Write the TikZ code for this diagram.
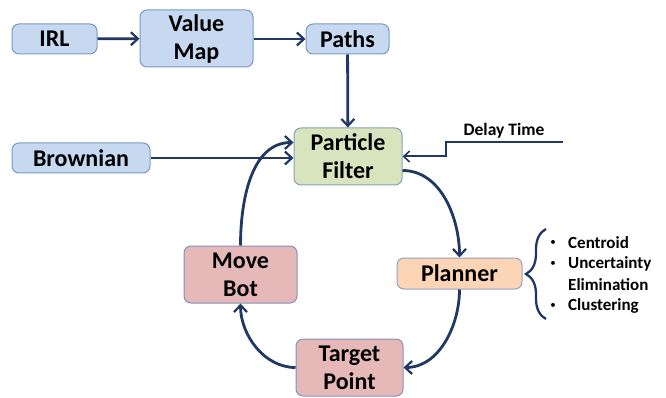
\documentclass[tikz,border=0pt]{standalone}
\usepackage{fontspec}
\setmainfont{Carlito}
\usetikzlibrary{arrows.meta,decorations.pathreplacing}
\definecolor{bluefill}{RGB}{198,217,240}
\definecolor{blueline}{RGB}{124,152,196}
\definecolor{greenfill}{RGB}{215,228,189}
\definecolor{greenline}{RGB}{140,160,180}
\definecolor{pinkfill}{RGB}{230,185,184}
\definecolor{pinkline}{RGB}{130,145,190}
\definecolor{orangefill}{RGB}{251,213,181}
\definecolor{orangeline}{RGB}{150,160,190}
\definecolor{arrowc}{RGB}{31,56,100}
\tikzset{
  box/.style={draw=#1line, line width=1pt, rounded corners=7pt, fill=#1fill, align=center, inner sep=0pt,
    font=\fontsize{24}{28}\selectfont\bfseries},
  conn/.style={draw=arrowc, line width=2.8pt, -{Straight Barb[length=7pt,width=13pt,line width=2.2pt]}},
  thin/.style={draw=arrowc, line width=2pt},
  small/.style={font=\fontsize{17}{20}\selectfont\bfseries, inner sep=0pt},
}
\begin{document}
\begin{tikzpicture}[x=1pt,y=-1pt]
\useasboundingbox (0,0) rectangle (666,398);
\node[box=blue, minimum width=85pt, minimum height=30pt] (irl) at (54.5,39) {IRL};
\node[box=blue, minimum width=113pt, minimum height=57pt] (vm) at (196.5,38.5) {Value\\Map};
\node[box=blue, minimum width=83pt, minimum height=30pt] (paths) at (347.5,39) {Paths};
\node[box=green, minimum width=108pt, minimum height=57pt] (pf) at (348,156.5) {Particle\\Filter};
\node[box=blue, minimum width=138pt, minimum height=30pt] (brown) at (81,158) {Brownian};
\node[box=orange, minimum width=125pt, minimum height=31pt] (plan) at (459.5,273.5) {Planner};
\node[box=pink, minimum width=113pt, minimum height=57pt] (move) at (240.5,274.5) {Move\\Bot};
\node[box=pink, minimum width=107pt, minimum height=57pt] (tgt) at (349.5,367.5) {Target\\Point};

\draw[conn] (irl) -- (vm);
\draw[conn] (vm.east |- paths) -- (paths);
\draw[conn] (paths) -- (pf);
\draw[conn] (brown.east) -- (pf.west |- brown.east);
\draw[conn] ([yshift=-14pt]pf.east) to[out=0,in=90,looseness=0.95] (plan.north);
\draw[conn] (plan.south) to[out=-90,in=0,looseness=0.95] (tgt.east);
\draw[conn] (tgt.west) to[out=180,in=-90,looseness=0.95] (move.south);
\draw[conn] (move.north) to[out=90,in=180,looseness=0.95] ([yshift=14pt]pf.west);

\coordinate (dt) at (563,142);
\coordinate (dc) at (446,142);
\draw[thin, -{Straight Barb[length=6pt,width=11pt,line width=1.6pt]}] (dt) -- (dc) -- (dc |- pf.east) -- (pf.east);
\node[small, font=\fontsize{17.5}{20}\selectfont\bfseries] (dtl) at (504,131) {Delay Time};

\draw[thin, line width=2.3pt, decorate, decoration={brace, amplitude=20pt}] (546,319) -- (546,229);

\node[small, font=\fontsize{11}{12}\selectfont, anchor=center] (b1) at (553,243) {\textbullet};
\node[small, anchor=west] (c1) at (568,243) {Centroid};
\node[small, font=\fontsize{11}{12}\selectfont, anchor=center] (b2) at (553,264) {\textbullet};
\node[small, anchor=west] (c2) at (568,264) {Uncertainty};
\node[small, anchor=west] (c3) at (568,285) {Elimination};
\node[small, font=\fontsize{11}{12}\selectfont, anchor=center] (b4) at (553,306) {\textbullet};
\node[small, anchor=west] (c4) at (568,306) {Clustering};
\end{tikzpicture}
\end{document}
